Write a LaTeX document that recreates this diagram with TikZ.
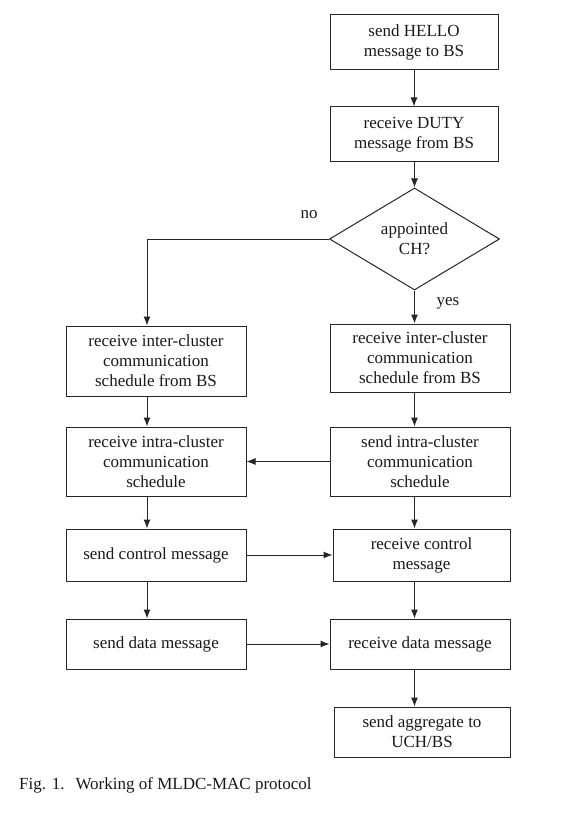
\documentclass[tikz,border=0pt]{standalone}
\usepackage{fontspec}
\setmainfont{Liberation Serif}
\usetikzlibrary{shapes.geometric,arrows.meta}

\begin{document}
\begin{tikzpicture}[x=1pt,y=-1pt,
	box/.style={shape=rectangle,draw=black!85,line width=1pt,inner sep=0pt,minimum width=180pt,align=center,font=\fontsize{17}{20}\selectfont,text=black!90},
	lbl/.style={inner sep=0pt,font=\fontsize{17}{20}\selectfont,text=black!90},
	flow/.style={-{Latex[length=9pt,width=7pt]},color=black!85,line width=1pt}]
	\useasboundingbox (0,0) rectangle (580,813);

	\node[box,minimum width=168pt,minimum height=55pt] (hello) at (414,42.5)  {send HELLO\\message to BS};
	\node[box,minimum width=168pt,minimum height=55pt] (duty)  at (414,134.5) {receive DUTY\\message from BS};
	\node[box,shape=diamond,aspect=1.67,minimum width=170pt,minimum height=102pt] (ch) at (414.5,239) {appointed\\CH?};

	\node[box,minimum height=70pt] (l1) at (156,361)   {receive inter-cluster\\communication\\schedule from BS};
	\node[box,minimum height=68pt] (r1) at (420,358)   {receive inter-cluster\\communication\\schedule from BS};
	\node[box,minimum height=69pt] (l2) at (156,461.5) {receive intra-cluster\\communication\\schedule};
	\node[box,minimum height=69pt] (r2) at (420,461.5) {send intra-cluster\\communication\\schedule};
	\node[box,minimum height=52pt] (l3) at (156,555)   {send control message};
	\node[box,minimum width=177pt,minimum height=52pt] (r3) at (421.5,555) {receive control\\message};
	\node[box,minimum height=50pt] (l4) at (156,644)   {send data message};
	\node[box,minimum height=50pt] (r4) at (420,644)   {receive data message};
	\node[box,minimum width=176pt,minimum height=50pt] (r5) at (422,732) {send aggregate to\\UCH/BS};

	\node[lbl] (no)  at (309,215) {no};
	\node[lbl] (yes) at (448,303) {yes};
	\node[lbl,anchor=west] (caption) at (19,785) {Fig. 1.\hspace{11pt}Working of MLDC-MAC protocol};

	\coordinate (lc) at (147,0);
	\coordinate (rc) at (414.5,0);

	\path[flow] (hello) edge (duty);
	\path[flow] (duty.south -| rc) edge (ch.north);
	\draw[flow] (ch.west) -| (l1.north -| lc);
	\path[flow] (ch.south) edge (r1.north -| rc);
	\path[flow] (l1.south -| lc) edge (l2.north -| lc);
	\path[flow] (r1.south -| rc) edge (r2.north -| rc);
	\path[flow] (r2) edge (l2);
	\path[flow] (l2.south -| lc) edge (l3.north -| lc);
	\path[flow] (r2.south -| rc) edge (r3.north -| rc);
	\path[flow] (l3) edge (r3);
	\path[flow] (l3.south -| lc) edge (l4.north -| lc);
	\path[flow] (r3.south -| rc) edge (r4.north -| rc);
	\path[flow] (l4) edge (r4);
	\path[flow] (r4.south -| rc) edge (r5.north -| rc);

\end{tikzpicture}
\end{document}
